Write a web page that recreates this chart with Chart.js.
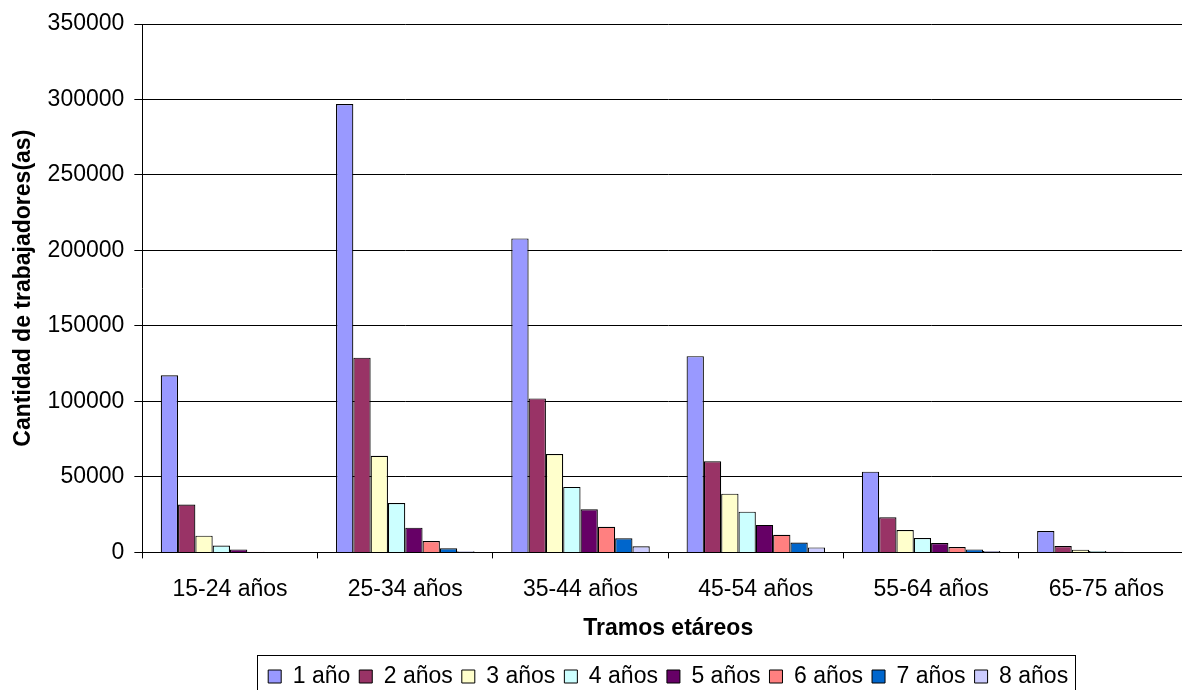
<!DOCTYPE html>
<html>
<head>
<meta charset="utf-8">
<script src="https://cdn.jsdelivr.net/npm/chart.js@4.4.1/dist/chart.umd.min.js"></script>
<style>
  html, body { margin: 0; padding: 0; background: #fff; overflow: hidden; }
  #wrap { width: 1200px; height: 698px; }
</style>
</head>
<body>
<div id="wrap"><canvas id="myChart" width="1200" height="698"></canvas></div>
<script>
const categories = ['15-24 años', '25-34 años', '35-44 años', '45-54 años', '55-64 años', '65-75 años'];
const seriesNames = ['1 año', '2 años', '3 años', '4 años', '5 años', '6 años', '7 años', '8 años'];
const y1 = [117300, 297000, 208000, 130000, 53500, 14200];
const y2 = [31700, 129000, 102000, 60300, 23200, 4200];
const y3 = [11100, 64000, 65200, 38900, 14800, 1800];
const y4 = [4600, 32700, 43400, 27000, 9500, 1000];
const y5 = [2000, 16400, 28500, 18200, 6200, 500];
const y6 = [500, 7500, 17000, 11700, 3500, 300];
const y7 = [300, 2700, 9300, 6600, 2000, 200];
const y8 = [100, 700, 4000, 3300, 900, 100];
const yTicks = [0, 50000, 100000, 150000, 200000, 250000, 300000, 350000];

const colors = ['#9999FF', '#993366', '#FFFFCC', '#CCFFFF', '#660066', '#FF8080', '#0066CC', '#CCCCFF'];
const values = [y1, y2, y3, y4, y5, y6, y7, y8];

const FONT = '"Liberation Sans", Arial, sans-serif';
const FS = 23;

// Excel-style frame around the legend
const legendBox = {
    id: 'legendBox',
    afterDraw(chart) {
        const boxes = chart.legend.legendHitBoxes;
        if (!boxes || !boxes.length) return;
        const first = boxes[0], last = boxes[boxes.length - 1];
        const ctx = chart.ctx;
        ctx.save();
        ctx.strokeStyle = '#000';
        ctx.lineWidth = 1;
        const x0 = Math.round(first.left) - 10.5;
        const x1 = Math.round(last.left + last.width) + 7.5;
        const y0 = Math.round(first.top) - 9.5;
        ctx.strokeRect(x0, y0, x1 - x0, 60);
        ctx.restore();
    }
};

const ctx = document.getElementById('myChart').getContext('2d');
new Chart(ctx, {
    type: 'bar',
    data: {
        labels: categories,
        datasets: values.map((v, i) => ({
            label: seriesNames[i],
            data: v,
            backgroundColor: colors[i],
            borderColor: '#000',
            borderWidth: 1.2,
            categoryPercentage: 0.79,
            barPercentage: 1.0
        }))
    },
    options: {
        responsive: false,
        animation: false,
        layout: { padding: { top: 24, right: 6, bottom: 0, left: 8 } },
        plugins: {
            tooltip: { enabled: false },
            legend: {
                position: 'bottom',
                fullSize: false,
                labels: {
                    font: { family: FONT, size: FS },
                    color: '#000',
                    boxWidth: 13,
                    boxHeight: 13,
                    padding: 9,
                    generateLabels(chart) {
                        return chart.data.datasets.map((d, i) => ({
                            text: d.label,
                            fillStyle: d.backgroundColor,
                            strokeStyle: '#000',
                            lineWidth: 1,
                            hidden: false,
                            datasetIndex: i
                        }));
                    }
                }
            }
        },
        scales: {
            x: {
                grid: { drawOnChartArea: false, drawTicks: true, tickLength: 6, color: '#000', offset: true },
                border: { color: '#000', width: 1 },
                ticks: { font: { family: FONT, size: FS }, color: '#000', padding: 17, maxRotation: 0 },
                title: {
                    display: true,
                    text: 'Tramos etáreos',
                    font: { family: FONT, size: FS, weight: 'bold', lineHeight: 1 },
                    color: '#000',
                    padding: { top: -3, bottom: 16 }
                }
            },
            y: {
                min: 0,
                max: 350000,
                afterBuildTicks(scale) { scale.ticks = yTicks.map(v => ({ value: v })); },
                grid: { color: '#000', lineWidth: 1, tickLength: 8, tickColor: '#000' },
                border: { color: '#000', width: 1 },
                ticks: { font: { family: FONT, size: FS }, color: '#000', padding: 10, callback: v => String(v) },
                title: {
                    display: true,
                    text: 'Cantidad de trabajadores(as)',
                    font: { family: FONT, size: FS, weight: 'bold' },
                    color: '#000',
                    padding: { top: 2, bottom: 0 }
                }
            }
        }
    },
    plugins: [legendBox]
});
</script>
</body>
</html>
